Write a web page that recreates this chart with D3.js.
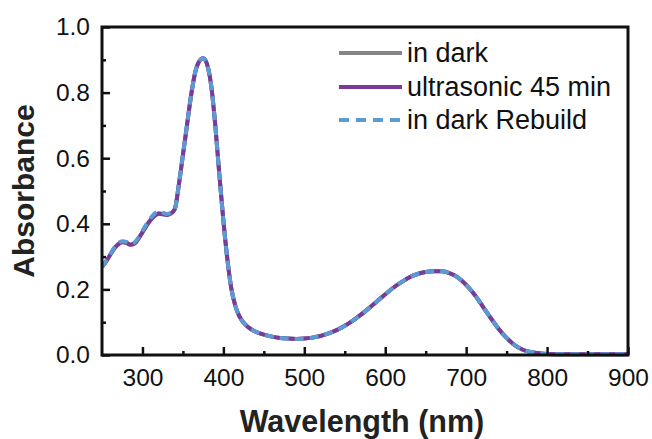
<!DOCTYPE html>
<html><head><meta charset="utf-8">
<script src="https://cdn.jsdelivr.net/npm/d3@7"></script>
<style>html,body{margin:0;padding:0;background:#fff;}svg{display:block;font-family:"Liberation Sans",Arial,sans-serif;}</style>
</head><body>
<svg id="chart" width="652" height="439"></svg>
<script>
const wavelength = [250,255,260,265,270,275,280,285,290,295,300,305,310,315,320,325,330,335,340,345,350,355,360,365,370,375,380,385,390,395,400,405,410,415,420,430,440,450,460,470,480,490,500,510,520,530,540,550,560,570,580,590,600,610,620,630,640,650,660,670,680,690,700,710,720,730,740,750,760,770,780,790,800,820,850,880,900];
const inDark = [0.268,0.285,0.305,0.325,0.338,0.345,0.343,0.337,0.340,0.355,0.375,0.395,0.412,0.425,0.432,0.430,0.428,0.432,0.445,0.52,0.61,0.70,0.79,0.86,0.895,0.905,0.885,0.82,0.70,0.55,0.41,0.29,0.20,0.148,0.117,0.086,0.071,0.062,0.056,0.052,0.050,0.049,0.050,0.053,0.058,0.066,0.076,0.089,0.105,0.123,0.143,0.164,0.185,0.205,0.222,0.237,0.247,0.253,0.255,0.255,0.249,0.236,0.214,0.185,0.150,0.114,0.080,0.052,0.030,0.016,0.009,0.005,0.003,0.002,0.002,0.002,0.002];
const ultrasonic45 = [0.268,0.285,0.305,0.324,0.337,0.344,0.342,0.336,0.339,0.354,0.374,0.394,0.411,0.424,0.431,0.429,0.427,0.431,0.445,0.52,0.61,0.70,0.79,0.86,0.895,0.905,0.885,0.82,0.70,0.55,0.41,0.29,0.20,0.148,0.117,0.086,0.071,0.062,0.056,0.052,0.050,0.049,0.050,0.053,0.058,0.066,0.076,0.089,0.105,0.123,0.143,0.164,0.185,0.205,0.222,0.237,0.247,0.253,0.255,0.255,0.249,0.236,0.214,0.185,0.150,0.114,0.080,0.052,0.030,0.016,0.009,0.005,0.003,0.002,0.002,0.002,0.002];
const inDarkRebuild = [0.268,0.286,0.307,0.327,0.340,0.347,0.345,0.339,0.343,0.358,0.379,0.399,0.417,0.431,0.438,0.434,0.430,0.433,0.446,0.52,0.61,0.70,0.79,0.86,0.895,0.905,0.885,0.82,0.70,0.55,0.41,0.29,0.20,0.148,0.117,0.086,0.071,0.062,0.056,0.052,0.050,0.049,0.050,0.053,0.058,0.066,0.076,0.089,0.105,0.123,0.143,0.164,0.185,0.205,0.222,0.237,0.247,0.253,0.255,0.255,0.249,0.236,0.214,0.185,0.150,0.114,0.080,0.052,0.030,0.016,0.009,0.005,0.003,0.002,0.002,0.002,0.002];
const seriesNames = ["in dark","ultrasonic 45 min","in dark Rebuild"];
const xTicks = [300,400,500,600,700,800,900];
const yTicks = [0.0,0.2,0.4,0.6,0.8,1.0];

const svg = d3.select("#chart");
const L = 102, R = 628, T = 27, B = 355;
const x = d3.scaleLinear().domain([250,900]).range([L,R]);
const y = d3.scaleLinear().domain([0,1]).range([B,T]);

const series = [
  {name: seriesNames[0], values: inDark, color: "#858585", dash: null},
  {name: seriesNames[1], values: ultrasonic45, color: "#7a3a96", dash: null},
  {name: seriesNames[2], values: inDarkRebuild, color: "#5b9ad3", dash: "9,6"}
];
const line = d3.line().x(d => x(d[0])).y(d => y(d[1])).curve(d3.curveMonotoneX);
svg.append("clipPath").attr("id","clip").append("rect").attr("x",L).attr("y",T-5).attr("width",R-L).attr("height",B-T+10);
const g = svg.append("g").attr("clip-path","url(#clip)");
series.forEach(s => {
  g.append("path").datum(wavelength.map((w,i)=>[w,s.values[i]]))
    .attr("d", line).attr("fill","none").attr("stroke", s.color)
    .attr("stroke-width", 4).attr("stroke-dasharray", s.dash);
});

// axes
const xAxis = d3.axisBottom(x).tickValues(xTicks).tickSizeInner(-8).tickSizeOuter(0).tickPadding(14).tickFormat(d3.format("d"));
const xMinor = d3.axisBottom(x).tickValues([350,450,550,650,750,850]).tickSizeInner(-4).tickSizeOuter(0).tickFormat("");
const yAxis = d3.axisLeft(y).tickValues(yTicks).tickSizeInner(-8).tickSizeOuter(0).tickPadding(12).tickFormat(d3.format(".1f"));
const yMinor = d3.axisLeft(y).tickValues([0.1,0.3,0.5,0.7,0.9]).tickSizeInner(-4).tickSizeOuter(0).tickFormat("");
function style(sel){
  sel.select(".domain").remove();
  sel.selectAll("line").attr("stroke","#111").attr("stroke-width",2.5);
  sel.selectAll("text").attr("fill","#111").style("font-size","24.5px").style("font-family","'Liberation Sans',Arial,sans-serif");
}
svg.append("g").attr("transform",`translate(0,${B})`).call(xAxis).call(style);
svg.append("g").attr("transform",`translate(0,${B})`).call(xMinor).call(style);
svg.append("g").attr("transform",`translate(${L},0)`).call(yAxis).call(style);
svg.append("g").attr("transform",`translate(${L},0)`).call(yMinor).call(style);
svg.append("rect").attr("x",L).attr("y",T).attr("width",R-L).attr("height",B-T)
  .attr("fill","none").attr("stroke","#111").attr("stroke-width",3);

svg.append("text").attr("x",(L+R)/2-3).attr("y",432).attr("text-anchor","middle")
  .attr("font-weight","bold").attr("font-size",30.5).attr("fill","#222").text("Wavelength (nm)");
svg.append("text").attr("transform",`translate(34,${(T+B)/2}) rotate(-90)`).attr("text-anchor","middle")
  .attr("font-weight","bold").attr("font-size",30).attr("fill","#222").text("Absorbance");

// legend
const leg = svg.append("g");
const rows = [53,87,120];
series.forEach((s,i) => {
  leg.append("line").attr("x1",339).attr("x2",402).attr("y1",rows[i]).attr("y2",rows[i])
    .attr("stroke",s.color).attr("stroke-width",4).attr("stroke-dasharray", s.dash ? "10,7" : null);
  leg.append("text").attr("x",407).attr("y",rows[i]+9).attr("font-size",27).attr("fill","#111").text(s.name);
});
</script>
</body></html>
